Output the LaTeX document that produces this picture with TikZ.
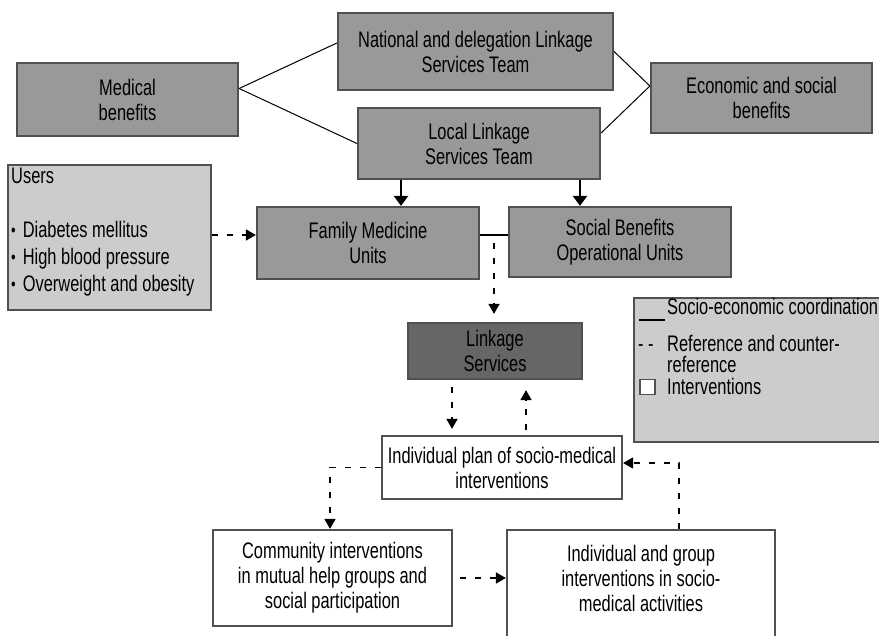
\documentclass[tikz,border=0pt]{standalone}
\usepackage{fontspec}
\setmainfont{Liberation Sans}[FakeStretch=0.73]
\usetikzlibrary{arrows.meta,calc}
\definecolor{boxgray}{HTML}{999999}
\definecolor{panelgray}{HTML}{CCCCCC}
\definecolor{deepgray}{HTML}{666666}
\definecolor{edgegray}{HTML}{505050}
\newcommand{\listdot}{\raisebox{1pt}{\scalebox{0.8}{\textbullet}}\hspace{7pt}}
\begin{document}
\begin{tikzpicture}[x=1pt,y=-1pt,
  txt/.style={font=\fontsize{22.5}{25}\selectfont, align=center, inner sep=0pt},
  box/.style={draw=edgegray, line width=2.2pt, rectangle, inner sep=0pt, txt},
  unit/.style={box, fill=boxgray},
  panel/.style={box, fill=panelgray},
  ivbox/.style={box, fill=white},
  tie/.style={line width=1pt},
  coordline/.style={line width=2.8pt},
  ref/.style={line width=1.5pt, dash pattern=on 6pt off 9pt},
  tip/.style={-{Triangle[length=10pt,width=11pt]}},
  bigtip/.style={-{Triangle[length=10pt,width=14pt]}},
]
\useasboundingbox (0,0) rectangle (879,636);

% upper level teams and benefits
\node[unit, minimum width=275pt, minimum height=77pt] (nat) at (475.5,51.5) {National and delegation Linkage\\Services Team};
\node[unit, minimum width=221pt, minimum height=73pt] (med) at (127.5,99.5) {Medical\\benefits};
\node[unit, minimum width=242pt, minimum height=71pt] (loc) at (479,143.5) {Local Linkage\\Services Team};
\node[unit, minimum width=221pt, minimum height=70pt] (eco) at (761.5,98) {Economic and social\\benefits};

% users
\node[panel, minimum width=203pt, minimum height=145pt] (users) at (109.5,237.5) {};
\node[txt, align=left, anchor=north west, font=\fontsize{22.5}{27}\selectfont] (userstxt) at (11,168)
  {Users\\ \\ \listdot Diabetes mellitus\\ \listdot High blood pressure\\ \listdot Overweight and obesity};

% operational units
\node[unit, minimum width=222pt, minimum height=72pt] (fam) at (368,243) {Family Medicine\\Units};
\node[unit, minimum width=222pt, minimum height=70pt] (soc) at (620,242) {Social Benefits\\Operational Units};

% linkage services and interventions
\node[box, fill=deepgray, minimum width=174pt, minimum height=56pt] (link) at (495,351) {Linkage\\Services};
\node[ivbox, minimum width=240pt, minimum height=63pt] (plan) at (502,467.5) {Individual plan of socio-medical\\interventions};
\node[ivbox, minimum width=239pt, minimum height=96pt] (comm) at (332.5,578) {Community interventions\\in mutual help groups and\\social participation};
\node[ivbox, minimum width=268pt, minimum height=130pt] (grp) at (641,595) {};
\node[txt] (grptxt) at (641,578) {Individual and group\\interventions in socio-\\medical activities};

% legend
\draw[draw=edgegray, fill=panelgray, line width=2.2pt] (634,298) rectangle (895,442);
\coordinate (lgA) at (639,320);
\coordinate (lgB) at (665,320);
\draw[coordline] (lgA) -- (lgB);
\node[txt, anchor=base west] (lg1) at (667,315) {Socio-economic coordination};
\node[txt, anchor=base west] (lg2d) at (638,352) {- -};
\node[txt, anchor=base west] (lg2) at (667,352) {Reference and counter-};
\node[txt, anchor=base west] (lg2b) at (667,373) {reference};
\node[draw=edgegray, line width=1.4pt, fill=white, minimum size=15pt, inner sep=0pt] (lg3b) at (647.5,387) {};
\node[txt, anchor=base west] (lg3) at (667,395) {Interventions};

% links between teams and benefits
\draw[tie] ([yshift=11pt]med.east) -- ([yshift=8.5pt]nat.west);
\draw[tie] ([yshift=11pt]med.east) -- (loc.west);
\draw[tie] ([yshift=12pt]eco.west) -- (nat.east);
\draw[tie] ([yshift=12pt]eco.west) -- ([yshift=10.5pt]loc.east);

% local team to operational units
\draw[coordline, bigtip] ([xshift=-78pt]loc.south) -- ([xshift=-78pt]loc.south |- fam.north);
\draw[coordline, bigtip] ([xshift=101pt]loc.south) -- ([xshift=101pt]loc.south |- soc.north);

% users to family medicine
\coordinate (famin) at ([yshift=8pt]fam.west);
\draw[ref, tip] (users.east |- famin) -- (famin);

% socio-economic coordination
\draw[coordline] ([yshift=8pt]fam.east) -- coordinate (bridge) ([yshift=8pt]fam.east -| soc.west);

% reference and counter-reference
\draw[ref, tip, shorten <=8pt, shorten >=8pt] (bridge) -- (bridge |- link.north);
\draw[ref, tip, shorten <=7pt, shorten >=6pt] ([xshift=-43pt]link.south) -- ([xshift=-43pt]link.south |- plan.north);
\draw[ref, tip, shorten <=5pt, shorten >=10pt] ([xshift=31pt]link.south |- plan.north) -- ([xshift=31pt]link.south);
\draw[ref, tip] (plan.west) -| ([xshift=-2.5pt]comm.north);
\draw[ref, tip, shorten <=7pt] (comm.east) -- (comm.east -| grp.west);
\draw[ref, tip] ([xshift=38pt]grp.north) |- ([yshift=4.5pt]plan.east);
\end{tikzpicture}
\end{document}
